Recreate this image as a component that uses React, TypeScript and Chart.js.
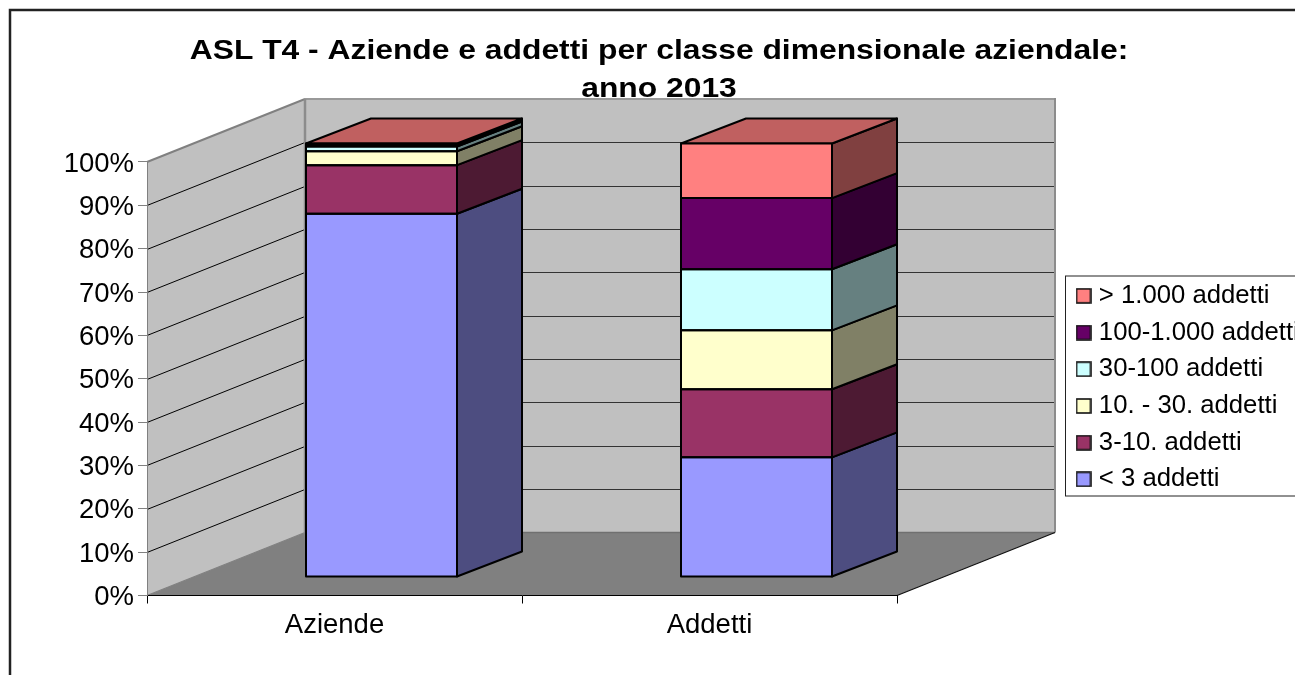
import React, { useEffect, useRef } from "react";
import { Chart, registerables } from "chart.js";

Chart.register(...registerables);

const categories = ["Aziende", "Addetti"];
const seriesNames = ["< 3 addetti", "3-10. addetti", "10. - 30. addetti", "30-100 addetti", "100-1.000 addetti", "> 1.000 addetti"];
const lessThan3 = [83.8, 27.6];
const from3to10 = [11.2, 15.7];
const from10to30 = [3.2, 13.6];
const from30to100 = [1.1, 14.1];
const from100to1000 = [0.4, 16.4];
const over1000 = [0.3, 12.6];
const seriesValues = [lessThan3, from3to10, from10to30, from30to100, from100to1000, over1000];
const frontColors = ["#9999FF", "#993366", "#FFFFCC", "#CCFFFF", "#660066", "#FF8080"];
const sideColors = ["#4D4D80", "#4D1A33", "#808066", "#668080", "#330033", "#804040"];
const topColor = "#C06060";
const titleLines = ["ASL T4 - Aziende e addetti per classe dimensionale aziendale:", "anno 2013"];

const WALL_DX = 158, WALL_DY = -63;
const BAR_DX = 47, BAR_DY = -18.5;
const DEPTH_DX = 65, DEPTH_DY = -25;
const TITLE_STRETCH = 1.136, TITLE_CENTER = 659;
const FONT = "'Liberation Sans', Arial, sans-serif";

function poly(ctx: CanvasRenderingContext2D, pts: number[][], fill: string | null, stroke: string | null, lw = 1) {
  ctx.beginPath();
  pts.forEach((p, i) => (i ? ctx.lineTo(p[0], p[1]) : ctx.moveTo(p[0], p[1])));
  ctx.closePath();
  if (fill) { ctx.fillStyle = fill; ctx.fill(); }
  if (stroke) { ctx.strokeStyle = stroke; ctx.lineWidth = lw; ctx.lineJoin = "round"; ctx.stroke(); }
}
function seg(ctx: CanvasRenderingContext2D, x1: number, y1: number, x2: number, y2: number, c: string, lw: number) {
  ctx.beginPath(); ctx.moveTo(x1, y1); ctx.lineTo(x2, y2); ctx.strokeStyle = c; ctx.lineWidth = lw; ctx.stroke();
}
function makeSwatch(color: string) {
  const c = document.createElement("canvas");
  c.width = 16; c.height = 16;
  const g = c.getContext("2d")!;
  g.fillStyle = color; g.fillRect(1, 1, 14, 14);
  g.strokeStyle = "#111"; g.lineWidth = 1.6; g.strokeRect(1, 1, 14, 14);
  return c;
}

const chart3d = {
  id: "chart3d",
  beforeDraw(chart: any) {
    const ctx: CanvasRenderingContext2D = chart.ctx;
    const { left, right, top, bottom } = chart.chartArea;
    const yS = chart.scales.y;
    ctx.save();
    ctx.fillStyle = "#fff"; ctx.fillRect(0, 0, chart.width, chart.height);
    ctx.strokeStyle = "#222"; ctx.lineWidth = 2.5; ctx.strokeRect(10, 10, 1400, 1000);
    const bl = left + WALL_DX, br = right + WALL_DX;
    const wt = top + WALL_DY, wb = bottom + WALL_DY;
    poly(ctx, [[left, top], [bl, wt], [bl, wb], [left, bottom]], "#C0C0C0", null);
    poly(ctx, [[bl, wt], [br, wt], [br, wb], [bl, wb]], "#C0C0C0", null);
    poly(ctx, [[left, bottom], [bl, wb], [br, wb], [right, bottom]], "#808080", null);
    yS.ticks.forEach((t: any) => {
      if (t.value <= 0 || t.value >= 100) return;
      const y = Math.round(yS.getPixelForValue(t.value));
      seg(ctx, left, y + 0.5, bl, y + WALL_DY + 0.5, "#000", 1);
      seg(ctx, bl, y + WALL_DY + 0.5, br, y + WALL_DY + 0.5, "#333", 1);
    });
    seg(ctx, left, top, bl, wt, "#808080", 2);
    seg(ctx, bl - 1, wt, br, wt, "#999", 2);
    seg(ctx, bl, wt, bl, wb, "#8c8c8c", 2.5);
    seg(ctx, br, wt - 1, br, wb, "#8c8c8c", 2);
    seg(ctx, left, bottom, bl, wb, "#808080", 1.2);
    seg(ctx, bl, wb, br, wb, "#707070", 1.5);
    seg(ctx, right, bottom, br, wb, "#111", 1.2);
    // legend frame
    ctx.fillStyle = "#fff"; ctx.fillRect(1065, 276, 300, 220);
    ctx.strokeStyle = "#222"; ctx.lineWidth = 1; ctx.strokeRect(1065.5, 276, 300, 220);
    ctx.restore();
    const lg = chart.legend;
    lg.left = 1070; lg.right = 1600; lg.top = 272; lg.bottom = 2000;
    const tt = chart.titleBlock;
    tt.left = 0; tt.right = (2 * TITLE_CENTER) / TITLE_STRETCH; tt.top = 32;
    if (!tt._stretched) {
      tt._stretched = true;
      const original = tt.draw;
      tt.draw = function (...args: any[]) {
        ctx.save();
        ctx.scale(TITLE_STRETCH, 1);
        original.apply(this, args);
        ctx.restore();
      };
    }
  },
  beforeDatasetsDraw(chart: any) {
    const ctx: CanvasRenderingContext2D = chart.ctx;
    ctx.save();
    ctx.translate(BAR_DX, BAR_DY);
    const n = chart.data.datasets.length;
    for (let d = 0; d < n; d++) {
      chart.getDatasetMeta(d).data.forEach((el: any) => {
        const xl = el.x - el.width / 2, xr = el.x + el.width / 2;
        const yt = el.y, yb = el.base;
        poly(ctx, [[xr, yt], [xr + DEPTH_DX, yt + DEPTH_DY], [xr + DEPTH_DX, yb + DEPTH_DY], [xr, yb]], sideColors[d], "#000", 2);
        if (d === n - 1) {
          poly(ctx, [[xl, yt], [xl + DEPTH_DX, yt + DEPTH_DY], [xr + DEPTH_DX, yt + DEPTH_DY], [xr, yt]], topColor, "#000", 2);
        }
      });
    }
  },
  afterDatasetsDraw(chart: any) {
    const ctx: CanvasRenderingContext2D = chart.ctx;
    const n = chart.data.datasets.length;
    ctx.strokeStyle = "#000"; ctx.lineWidth = 2; ctx.lineJoin = "round";
    for (let d = 0; d < n; d++) {
      chart.getDatasetMeta(d).data.forEach((el: any) => {
        ctx.strokeRect(el.x - el.width / 2, el.y, el.width, el.base - el.y);
      });
    }
    ctx.restore();
  },
};

export default function App() {
  const ref = useRef<HTMLCanvasElement>(null);
  useEffect(() => {
    const font = { family: FONT, size: 27.5 };
    const swatches = frontColors.map(makeSwatch);
    const chart = new Chart(ref.current!, {
      type: "bar",
      plugins: [chart3d],
      data: {
        labels: categories,
        datasets: seriesNames.map((name, i) => ({
          label: name,
          data: seriesValues[i],
          backgroundColor: frontColors[i],
          borderWidth: 0,
          barThickness: 151,
          clip: false,
        })),
      },
      options: {
        animation: false,
        responsive: false,
        events: [],
        layout: { padding: { left: 0, right: 398, top: 0, bottom: 0 } },
        plugins: {
          tooltip: { enabled: false },
          title: {
            display: true,
            text: titleLines,
            color: "#000",
            font: { family: FONT, size: 28, weight: "bold", lineHeight: 1.357 },
            padding: { top: 0, bottom: 86 },
          },
          legend: {
            position: "chartArea",
            align: "start",
            reverse: true,
            labels: {
              color: "#000",
              font: { family: FONT, size: 25.7 },
              usePointStyle: true,
              boxWidth: 5,
              boxHeight: 14,
              padding: 11,
              generateLabels(chart: any) {
                return chart.data.datasets.map((ds: any, i: number) => ({
                  text: ds.label,
                  datasetIndex: i,
                  fontColor: "#000",
                  pointStyle: swatches[i],
                  hidden: false,
                }));
              },
            },
          },
        },
        scales: {
          x: {
            stacked: true,
            grid: { drawOnChartArea: false, drawTicks: true, tickLength: 8, color: "#000", offset: true },
            border: { display: true, color: "#000", width: 1 },
            ticks: { color: "#000", font, padding: 5, maxRotation: 0 },
            afterFit(axis: any) { axis.height = 79.5; },
          },
          y: {
            stacked: true,
            min: 0,
            max: 100,
            grid: { drawOnChartArea: false, drawTicks: true, tickLength: 9, color: "#808080" },
            border: { display: true, color: "#808080", width: 1 },
            ticks: { stepSize: 10, color: "#000", font, padding: 4, labelOffset: 2, callback: (v: any) => v + "%" },
            afterFit(axis: any) { axis.width = 147; },
          },
        },
      },
    } as any);
    return () => chart.destroy();
  }, []);
  return (
    <canvas
      ref={ref}
      width={1295}
      height={675}
      style={{ position: "fixed", left: 0, top: 0, width: 1295, height: 675, display: "block" }}
    />
  );
}
